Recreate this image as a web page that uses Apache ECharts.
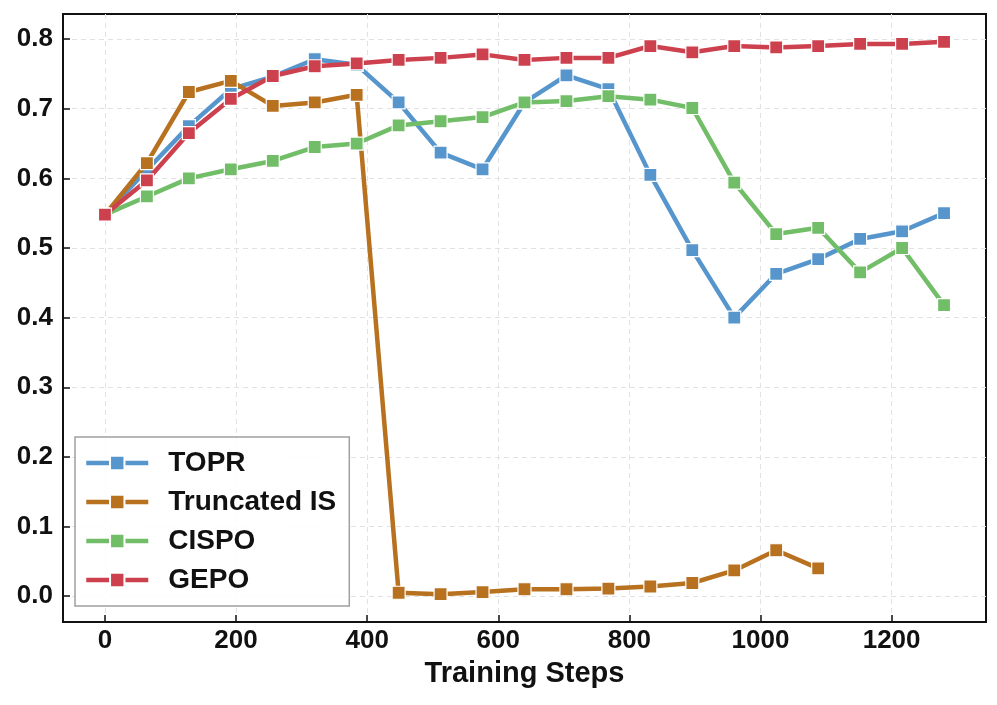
<!DOCTYPE html>
<html>
<head>
<meta charset="utf-8">
<script src="https://cdn.jsdelivr.net/npm/echarts@6/dist/echarts.min.js"></script>
<style>html,body{margin:0;padding:0;background:#fff;}#c{width:997px;height:705px;}</style>
</head>
<body>
<div id="c"></div>
<script>
const steps = [0,64,128,192,256,320,384,448,512,576,640,704,768,832,896,960,1024,1088,1152,1216,1280];
const topr  = [0.548,0.612,0.675,0.728,0.746,0.771,0.763,0.709,0.637,0.613,0.709,0.748,0.728,0.605,0.497,0.400,0.463,0.484,0.513,0.524,0.550];
const truncIS = [0.548,0.622,0.724,0.740,0.704,0.709,0.720,0.005,0.003,0.006,0.010,0.010,0.011,0.014,0.019,0.037,0.066,0.040];
const cispo = [0.548,0.574,0.600,0.613,0.625,0.645,0.650,0.676,0.682,0.688,0.709,0.711,0.718,0.713,0.701,0.594,0.520,0.529,0.465,0.500,0.418];
const gepo  = [0.548,0.597,0.665,0.714,0.747,0.761,0.765,0.770,0.773,0.778,0.770,0.773,0.773,0.790,0.781,0.790,0.788,0.790,0.793,0.793,0.796];
const xTicks = [0,200,400,600,800,1000,1200];
const yTicks = [0,0.1,0.2,0.3,0.4,0.5,0.6,0.7,0.8];
const names = ['TOPR','Truncated IS','CISPO','GEPO'];
const colors = ['#5796cc','#b7711f','#72be68','#cd404e'];

function pairs(vals){ return vals.map((v,i)=>[steps[i], v]); }
const seriesVals = [topr, truncIS, cispo, gepo];

const font = '"Liberation Sans", Arial, Helvetica, sans-serif';
const chart = echarts.init(document.getElementById('c'), null, {renderer:'canvas'});
chart.setOption({
  animation: false,
  backgroundColor: '#fff',
  grid: {left: 63, right: 11, top: 14, bottom: 83, show: true, borderColor: '#111', borderWidth: 2, containLabel: false},
  xAxis: {
    type: 'value', min: -64, max: 1344,
    name: 'Training Steps', nameLocation: 'middle', nameGap: 37,
    nameTextStyle: {fontFamily: font, fontWeight: 'bold', fontSize: 29, color: '#111'},
    axisLine: {show: true, onZero: false, lineStyle: {color: '#111', width: 2}},
    axisTick: {show: true, inside: true, length: 7, lineStyle: {color: '#111', width: 1.5}, customValues: xTicks},
    axisLabel: {fontFamily: font, fontWeight: 'bold', fontSize: 26, color: '#111', margin: 6, customValues: xTicks,
      formatter: v => String(v)},
    splitLine: {show: true, lineStyle: {color: '#e2e2e2', type: [5,4], width: 1}}
  },
  yAxis: {
    type: 'value', min: -0.037, max: 0.836,
    axisLine: {show: true, onZero: false, lineStyle: {color: '#111', width: 2}},
    axisTick: {show: true, inside: true, length: 7, lineStyle: {color: '#111', width: 1.5}, customValues: yTicks},
    axisLabel: {fontFamily: font, fontWeight: 'bold', fontSize: 26, color: '#111', margin: 10, customValues: yTicks,
      formatter: v => v.toFixed(1)},
    splitLine: {show: true, lineStyle: {color: '#e2e2e2', type: [5,4], width: 1}}
  },
  legend: {
    left: 75, top: 437, orient: 'vertical',
    data: names,
    itemWidth: 62, itemHeight: 18, itemGap: 9,
    padding: [11, 13, 11, 9],
    backgroundColor: 'rgba(255,255,255,0.85)',
    borderColor: '#a0a0a0', borderWidth: 1.5, borderRadius: 0,
    lineStyle: {width: 4.5},
    textStyle: {fontFamily: font, fontWeight: 'bold', fontSize: 28, color: '#111', lineHeight: 30, padding: [0,0,0,15]}
  },
  series: names.map((n, i) => ({
    name: n, type: 'line', data: pairs(seriesVals[i]),
    symbol: 'rect', symbolSize: 13, showSymbol: true,
    lineStyle: {width: 4.5, color: colors[i]},
    itemStyle: {color: colors[i], borderColor: '#fff', borderWidth: 1.2},
    z: 2 + i
  }))
});
</script>
</body>
</html>
